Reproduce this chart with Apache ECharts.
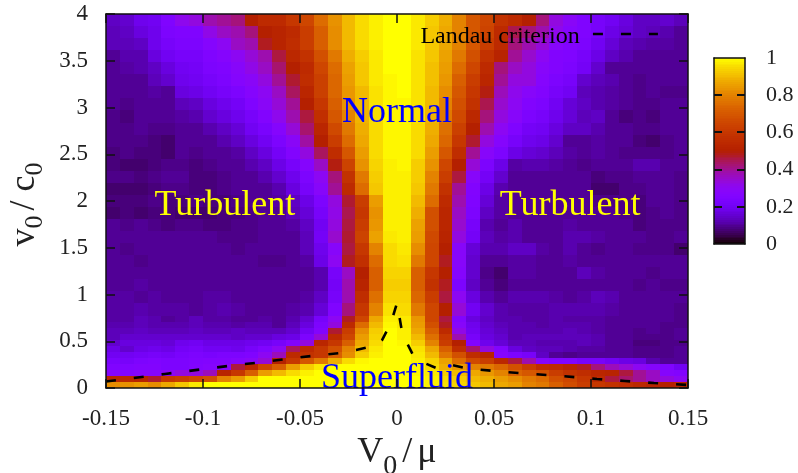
<!DOCTYPE html>
<html><head><meta charset="utf-8"><style>html,body{margin:0;padding:0;background:#fff}#c{width:798px;height:473px}</style>
<script src="https://cdn.jsdelivr.net/npm/echarts@6/dist/echarts.min.js"></script></head>
<body><div id="c"></div><script>
const xTicks=[-0.15,-0.1,-0.05,0,0.05,0.1,0.15];
const yTicks=[0,0.5,1,1.5,2,2.5,3,3.5,4];
const barTicks=[0.2,0.4,0.6,0.8];
const columnCount=42;
const vEdges=[4,3.871,3.742,3.613,3.484,3.355,3.226,3.097,2.968,2.839,2.71,2.581,2.452,2.323,2.194,2.065,1.936,1.807,1.678,1.549,1.42,1.291,1.162,1.033,0.904,0.77,0.706,0.642,0.578,0.513,0.449,0.385,0.321,0.257,0.193,0.128,0.064,0];
const r00=[14,15,19,20,25,31,33,38,40,42,50,55,55,60,65,75,83,90,95,98,100,100,97,93,88,80,70,65,58,55,50,42,33,29,25,22,20,17,14,14,15,13];
const r01=[13,14,17,19,24,25,25,32,36,38,42,50,52,55,62,72,82,90,95,98,100,100,97,92,87,80,70,64,55,45,42,38,31,27,25,22,18,16,14,13,12,10];
const r02=[13,13,14,19,22,24,24,27,30,36,38,48,52,56,62,72,82,90,95,98,100,100,97,92,87,80,70,62,55,42,38,34,28,26,24,20,16,13,12,11,11,10];
const r03=[10,12,12,17,20,22,22,25,27,30,34,38,46,54,58,68,78,88,93,97,100,100,96,92,86,78,68,58,52,40,35,30,26,25,22,18,14,12,10,10,10,10];
const r04=[10,11,12,14,17,20,21,24,25,28,32,36,43,50,55,65,75,86,92,97,100,100,96,91,85,75,65,55,42,36,33,28,26,24,21,15,10,10,10,10,10,10];
const r05=[10,10,10,13,15,19,20,22,24,27,29,33,40,47,56,63,74,85,92,97,99,100,96,91,84,72,62,53,40,33,33,27,24,22,15,13,12,10,9,10,10,10];
const r06=[10,10,10,11,10,17,18,20,22,24,27,30,36,44,53,63,74,84,90,96,99,100,96,90,82,70,60,49,37,31,28,26,22,20,13,12,11,10,9,10,9,9];
const r07=[10,9,10,10,10,13,14,17,19,21,25,29,34,40,50,60,72,83,90,96,99,99,96,90,80,68,58,45,35,30,26,24,20,16,14,12,11,10,9,9,10,10];
const r08=[9,8,10,10,10,11,12,15,17,19,22,26,31,38,46,57,70,80,89,95,99,99,96,89,78,66,54,42,33,28,24,22,19,16,13,14,10,8,9,8,10,10];
const r09=[9,9,10,9,9,10,10,12,14,16,20,23,27,34,43,53,66,78,88,95,99,99,95,88,76,63,50,38,30,25,21,20,17,14,14,12,10,10,9,9,10,10];
const r10=[9,9,9,8,7,10,10,10,12,14,17,20,24,29,39,50,62,75,87,95,99,99,95,87,74,60,47,33,27,22,19,18,15,10,10,11,10,10,8,7,9,10];
const r11=[8,9,8,8,7,10,9,10,10,11,14,17,21,26,33,44,56,70,85,95,99,99,95,85,70,56,40,28,24,18,16,15,13,11,10,11,10,9,9,9,9,10];
const r12=[8,7,7,8,9,9,8,9,10,10,12,14,18,22,27,36,49,64,83,94,98,99,93,83,65,50,34,24,18,11,12,12,11,10,9,10,10,10,12,12,10,10];
const r13=[9,9,8,9,10,10,8,8,9,10,10,12,15,19,24,30,42,58,78,93,98,98,93,80,62,46,28,21,15,10,10,10,10,10,10,8,9,9,10,10,10,9];
const r14=[7,7,7,8,9,9,8,8,9,10,10,10,12,17,22,28,40,55,75,92,98,98,92,78,58,40,26,18,12,10,10,10,10,10,10,7,7,9,9,10,10,9];
const r15=[8,8,8,9,8,8,9,8,8,9,10,10,11,14,18,24,33,47,62,85,98,98,90,75,55,38,25,16,11,10,10,10,10,10,10,9,9,9,8,10,10,9];
const r16=[7,8,7,8,8,7,7,7,8,8,9,10,10,13,16,22,32,45,60,83,98,98,88,68,53,36,24,14,11,10,10,10,10,10,10,10,10,9,8,9,10,9];
const r17=[10,9,10,9,8,9,9,8,8,9,9,10,10,11,14,20,33,46,62,84,98,98,86,68,53,35,22,12,10,12,10,10,10,11,10,10,10,10,8,9,9,9];
const r18=[10,10,10,10,10,10,10,10,9,9,9,10,10,10,13,21,35,47,64,86,97,98,85,66,52,33,21,13,11,12,10,10,10,12,12,11,10,10,10,9,9,10];
const r19=[10,9,10,10,10,10,10,10,10,9,10,10,10,10,13,19,28,46,60,80,95,97,82,65,50,28,16,12,12,14,14,11,10,12,10,9,10,10,9,9,9,7];
const r20=[10,10,9,10,10,10,10,10,10,10,10,9,9,10,11,18,30,48,57,75,95,96,78,65,48,28,15,10,10,11,11,10,10,11,10,10,10,10,10,10,10,10];
const r21=[10,10,10,10,10,10,10,10,10,10,10,10,10,10,10,12,22,36,50,72,94,94,72,60,50,27,15,9,7,11,11,10,10,10,13,11,10,10,10,9,10,10];
const r22=[10,10,11,10,10,10,10,10,10,10,10,10,10,10,10,12,21,38,52,72,93,93,72,58,48,24,14,10,8,10,10,10,10,10,10,10,10,10,9,10,9,9];
const r23=[11,11,10,11,10,10,10,11,11,10,10,10,10,10,11,14,22,38,56,76,94,94,74,62,46,30,17,12,10,12,12,12,11,10,11,13,12,10,10,10,10,10];
const r24=[11,11,12,11,11,11,10,11,12,11,10,10,10,11,12,16,25,42,60,80,96,95,78,65,50,34,20,15,12,11,11,11,12,12,12,12,11,10,10,10,10,9];
const r25=[11,11,13,12,10,11,13,11,11,10,10,11,10,12,15,22,30,48,65,87,98,97,84,65,46,26,17,14,12,12,11,11,12,11,11,11,10,10,10,10,10,9];
const r26=[12,12,13,12,12,12,13,12,12,11,12,12,10,13,17,24,33,55,75,90,99,97,85,68,48,28,19,15,13,12,12,11,12,12,12,11,10,10,10,10,9,9];
const r27=[13,13,14,13,13,13,14,13,13,14,13,13,13,15,20,26,47,62,82,93,100,98,87,72,55,32,20,16,14,12,12,12,12,13,12,11,10,10,9,10,9,10];
const r28=[13,15,15,15,15,15,15,15,15,14,15,15,17,18,24,34,55,65,85,94,100,98,90,76,60,38,22,17,15,12,13,13,13,13,13,12,10,10,9,9,9,10];
const r29=[15,17,17,17,16,19,20,18,18,18,19,20,22,26,33,53,60,72,87,95,100,99,93,80,62,50,26,19,16,13,13,12,12,12,13,12,10,10,8,8,9,9];
const r30=[18,15,18,19,18,21,22,20,20,19,22,25,30,44,55,60,68,80,90,97,100,100,96,87,72,56,43,33,26,17,14,13,13,12,11,11,10,10,9,9,9,10];
const r31=[20,20,21,22,21,23,24,23,24,24,25,30,37,55,58,60,72,82,93,98,100,100,97,90,77,68,56,52,27,24,22,14,10,9,10,10,10,10,9,9,9,10];
const r32=[23,22,24,25,24,24,25,26,26,27,29,34,50,60,70,78,88,95,99,100,100,100,98,94,86,75,66,62,54,46,38,27,25,25,22,22,20,18,17,12,10,10];
const r33=[25,25,26,26,24,24,26,27,29,46,53,65,72,85,93,97,100,100,100,100,100,100,99,95,88,84,80,78,74,68,62,56,55,52,48,42,37,34,30,27,25,20];
const r34=[27,26,27,27,30,33,33,37,52,60,72,85,90,95,98,100,100,100,100,100,100,100,99,97,93,90,87,84,80,73,70,68,62,58,56,53,52,46,40,36,27,26];
const r35=[53,54,52,47,60,62,65,68,80,85,93,100,100,100,100,100,100,100,100,100,100,100,100,98,95,93,90,88,85,82,78,75,68,65,60,55,46,43,40,36,33,30];
const r36=[82,83,85,82,87,92,97,100,100,100,100,100,100,100,100,100,100,100,100,100,100,100,100,98,96,94,92,90,87,85,80,78,72,67,62,60,58,56,54,52,50,52];
const heatRows=[r00,r01,r02,r03,r04,r05,r06,r07,r08,r09,r10,r11,r12,r13,r14,r15,r16,r17,r18,r19,r20,r21,r22,r23,r24,r25,r26,r27,r28,r29,r30,r31,r32,r33,r34,r35,r36];
const landauX=[-0.15,-0.1196,-0.083,-0.0686,-0.0536,-0.0397,-0.0294,-0.0211,-0.0113,-0.0077,-0.0031,0,0.0026,0.0046,0.0088,0.0129,0.0201,0.0273,0.0366,0.0557,0.0701,0.085,0.1031,0.1175,0.1325,0.15];
const landauY=[0.07,0.15,0.246,0.278,0.32,0.353,0.374,0.406,0.452,0.513,0.695,0.909,0.6,0.503,0.332,0.278,0.214,0.251,0.208,0.171,0.15,0.128,0.096,0.075,0.053,0.032];
const keyX=[0.101,0.1345];
const keyY=[3.786,3.786];
const noteText=['Normal','Turbulent','Turbulent','Superfluid','Landau criterion'];
const noteX=[0,-0.0887,0.0892,0,0.0531];
const noteY=[2.95,1.95,1.95,0.098,3.755];
const noteColor=['#0000ff','#ffff00','#ffff00','#0000ff','#000000'];
const noteSize=[36,36,36,36,24];

const SERIF='"Liberation Serif","Times New Roman",serif';
function cmap(v){const r=Math.sqrt(v),g=v*v*v,b=Math.max(0,Math.sin(2*Math.PI*v));
  return 'rgb('+Math.round(r*255)+','+Math.round(g*255)+','+Math.round(b*255)+')';}
const step=0.3/columnCount, cells=[];
heatRows.forEach((row,ri)=>row.forEach((p,ci)=>{
  const xl=-0.15+ci*step; cells.push([xl,xl+step,vEdges[ri+1],vEdges[ri],p/100]);}));
const barCells=[];
for(let i=0;i<100;i++)barCells.push([0,1,i/100,(i+1)/100,(i+0.5)/100]);
function rectItem(p,api){
  const a=api.coord([api.value(0),api.value(3)]),b=api.coord([api.value(1),api.value(2)]);
  const x=Math.round(a[0]),y=Math.round(a[1]);
  return {type:'rect',shape:{x:x,y:y,width:Math.round(b[0])-x,height:Math.round(b[1])-y},
    style:{fill:cmap(api.value(4))},silent:true};
}
function barTickItem(p,api){
  const l=api.coord([api.value(0),api.value(2)]),r=api.coord([api.value(1),api.value(2)]),len=8,y=Math.round(l[1])-1;
  const bit=(x)=>({type:'rect',shape:{x:x,y:y,width:len,height:2},style:{fill:'#111'},silent:true});
  return {type:'group',children:[bit(l[0]),bit(r[0]-len)]};
}
const axisLine={show:true,onZero:false,lineStyle:{color:'#111',width:1.5}};
const tick={show:true,inside:true,length:9,lineStyle:{color:'#111',width:1.5}};
const xLabel={color:'#222',fontFamily:SERIF,fontSize:23,margin:19};
const yLabel={color:'#222',fontFamily:SERIF,fontSize:23,margin:18};
const xBase={type:'value',min:-0.15,max:0.15,interval:0.05,splitLine:{show:false},gridIndex:0,z:10,axisLine:axisLine,axisTick:tick};
const yBase={type:'value',min:0,max:4,interval:0.5,splitLine:{show:false},gridIndex:0,z:10,axisLine:axisLine,axisTick:tick};
const barEdge={type:'value',min:0,max:1,gridIndex:1,z:10,splitLine:{show:false},axisLine:axisLine,axisTick:{show:false},axisLabel:{show:false}};
const option={
  animation:false,backgroundColor:'#fff',
  grid:[{left:106,top:14,width:582,height:374,outerBoundsMode:'none'},{left:714,top:58,width:31,height:186,outerBoundsMode:'none'}],
  xAxis:[
    Object.assign({},xBase,{position:'bottom',axisLabel:xLabel,
      name:'{a|V}{s|0}{t| }{a|/}{t| }{a|μ}',nameLocation:'middle',nameGap:47,
      nameTextStyle:{fontFamily:SERIF,rich:{a:{fontFamily:SERIF,fontSize:36,color:'#222',lineHeight:36,verticalAlign:'top'},
        t:{fontFamily:SERIF,fontSize:20,lineHeight:36,verticalAlign:'top'},
        s:{fontFamily:SERIF,fontSize:28,color:'#222',lineHeight:26,padding:[18,0,0,0],verticalAlign:'top'}}}}),
    Object.assign({},xBase,{position:'top',axisLabel:{show:false}}),
    Object.assign({},barEdge,{position:'bottom'}),
    Object.assign({},barEdge,{position:'top'})
  ],
  yAxis:[
    Object.assign({},yBase,{position:'left',axisLabel:yLabel,
      name:'{a|v}{s|0}{t| }{a|/ c}{s|0}',nameLocation:'middle',nameGap:58,
      nameTextStyle:{fontFamily:SERIF,padding:[0,7,0,0],rich:{a:{fontFamily:SERIF,fontSize:36,color:'#222',lineHeight:36,verticalAlign:'top'},
        t:{fontFamily:SERIF,fontSize:20,lineHeight:36,verticalAlign:'top'},
        s:{fontFamily:SERIF,fontSize:26,color:'#222',lineHeight:26,padding:[16,0,0,0],verticalAlign:'top'}}}}),
    Object.assign({},yBase,{position:'right',axisLabel:{show:false}}),
    Object.assign({},barEdge,{position:'left'}),
    Object.assign({},barEdge,{position:'right',interval:0.2,axisLabel:{show:true,color:'#222',fontFamily:SERIF,fontSize:22,margin:21}})
  ],
  series:[
    {type:'custom',xAxisIndex:0,yAxisIndex:0,data:cells,renderItem:rectItem,encode:{x:[0,1],y:[2,3]},z:2,silent:true,clip:true,progressive:0},
    {type:'custom',xAxisIndex:2,yAxisIndex:2,data:barCells,renderItem:rectItem,encode:{x:[0,1],y:[2,3]},z:2,silent:true,progressive:0},
    {type:'custom',xAxisIndex:2,yAxisIndex:2,data:barTicks.map(v=>[0,1,v]),renderItem:barTickItem,encode:{x:[0,1],y:2},z:12,silent:true},
    {type:'line',xAxisIndex:0,yAxisIndex:0,data:landauX.map((x,i)=>[x,landauY[i]]),showSymbol:false,smooth:false,z:5,silent:true,
      lineStyle:{color:'#000',width:2.6,type:[10,18]}},
    {type:'line',xAxisIndex:0,yAxisIndex:0,data:keyX.map((x,i)=>[x,keyY[i]]),showSymbol:false,z:5,silent:true,
      lineStyle:{color:'#000',width:2.6,type:[10,18]}},
    {type:'custom',xAxisIndex:0,yAxisIndex:0,z:6,silent:true,clip:false,
      data:noteText.map((t,i)=>[noteX[i],noteY[i],i]),encode:{x:0,y:1},
      renderItem:(p,api)=>{const i=api.value(2),c=api.coord([api.value(0),api.value(1)]);
        return {type:'text',style:{x:c[0],y:c[1],text:noteText[i],fill:noteColor[i],align:'center',verticalAlign:'middle',
          font:noteSize[i]+'px '+SERIF}};}}
  ]
};
echarts.init(document.getElementById('c'),null,{renderer:'canvas'}).setOption(option);
</script></body></html>
